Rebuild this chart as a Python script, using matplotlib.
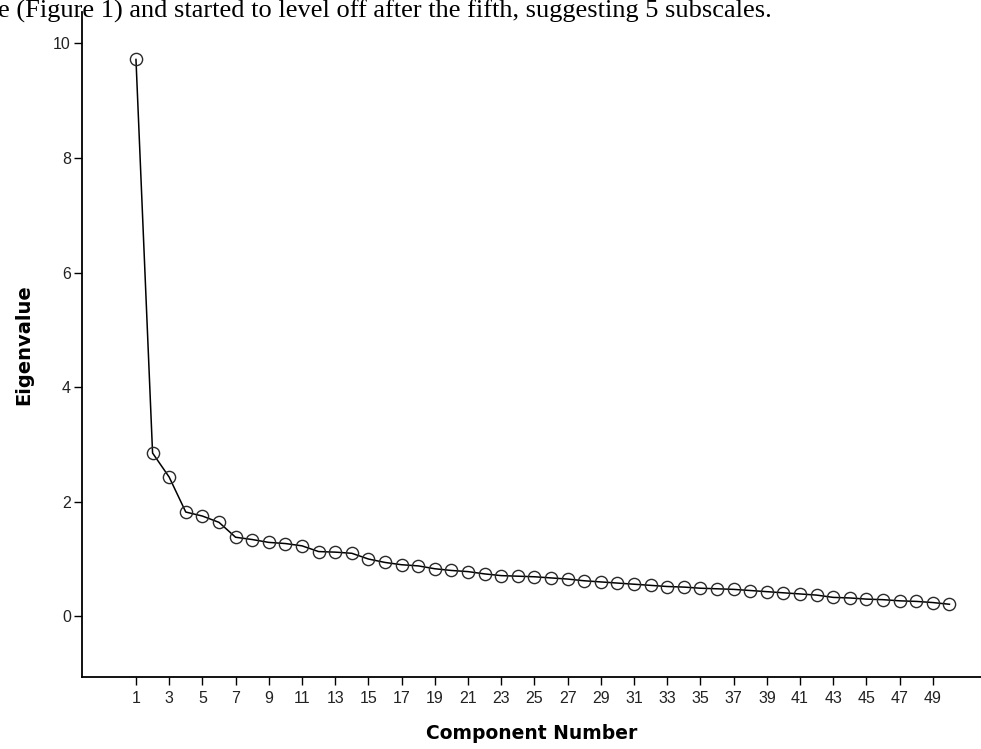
import matplotlib
matplotlib.use("Agg")
import matplotlib.pyplot as plt

# Datos del gráfico de sedimentación (scree plot)
componentes = list(range(1, 51))
autovalores = [9.72, 2.85, 2.43, 1.82, 1.75, 1.64, 1.38, 1.34, 1.29, 1.27,
               1.23, 1.13, 1.12, 1.10, 1.00, 0.94, 0.90, 0.88, 0.83, 0.80,
               0.78, 0.74, 0.71, 0.70, 0.69, 0.67, 0.65, 0.62, 0.60, 0.58,
               0.56, 0.54, 0.52, 0.51, 0.49, 0.48, 0.47, 0.45, 0.43, 0.41,
               0.39, 0.37, 0.33, 0.32, 0.30, 0.29, 0.27, 0.26, 0.24, 0.21]
x_ticks = list(range(1, 50, 2))
y_ticks = [0, 2, 4, 6, 8, 10]
texto_superior = "e (Figure 1) and started to level off after the fifth, suggesting 5 subscales."

plt.rcParams['font.family'] = ['Liberation Sans', 'DejaVu Sans']

fig = plt.figure(figsize=(9.81, 7.49), dpi=100)
ax = fig.add_axes([0.0836, 0.0961, 0.9164, 0.888])

ax.plot(componentes, autovalores, color='black', linewidth=1.1,
        marker='o', markersize=8.8, markerfacecolor='none',
        markeredgecolor='#2a2a2a', markeredgewidth=1.0)

ax.set_xlim(-2.25, 51.9)
ax.set_ylim(-1.06, 10.55)
ax.set_xticks(x_ticks)
ax.set_yticks(y_ticks)
ax.tick_params(axis='both', direction='out', length=6, width=1, labelsize=11.5,
               colors='black', labelcolor='#222222')
ax.tick_params(axis='x', pad=4)
ax.tick_params(axis='y', pad=2)

for lado in ['top', 'right']:
    ax.spines[lado].set_visible(False)
for lado in ['left', 'bottom']:
    ax.spines[lado].set_linewidth(1.3)

ax.set_xlabel('Component Number', family='DejaVu Sans', fontsize=13.5,
              fontweight='bold', labelpad=13)
ax.set_ylabel('Eigenvalue', family='DejaVu Sans', fontsize=14,
              fontweight='bold', labelpad=14)

fig.text(-0.002, 0.9766, texto_superior, family='Liberation Serif', fontsize=19,
         ha='left', va='baseline')

fig.savefig('out.png', dpi=100)
